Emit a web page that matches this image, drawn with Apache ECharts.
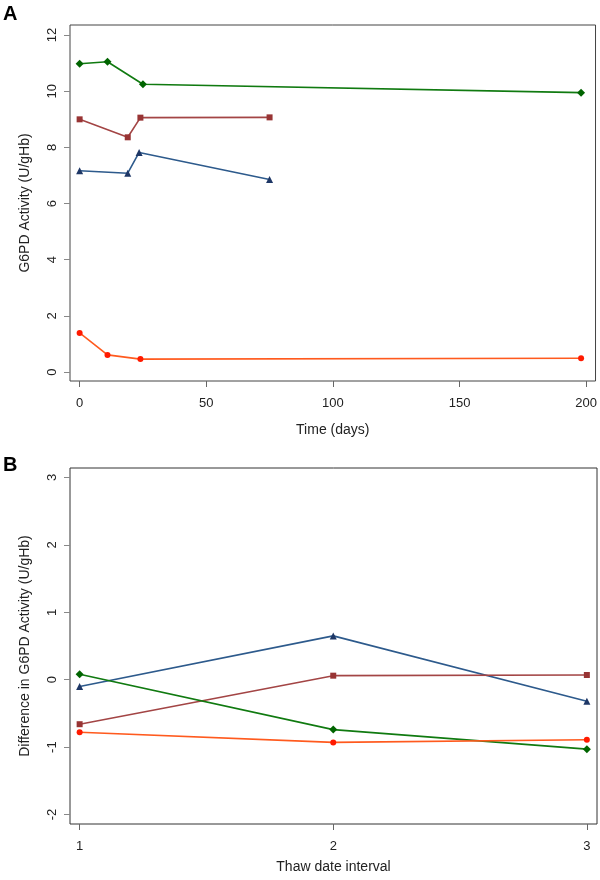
<!DOCTYPE html>
<html>
<head>
<meta charset="utf-8">
<script src="https://cdn.jsdelivr.net/npm/echarts@6/dist/echarts.min.js"></script>
<style>
html,body{margin:0;padding:0;background:#fff;}
#chart{width:600px;height:880px;}
</style>
</head>
<body>
<div id="chart"></div>
<script>
// ---- Panel A data (time in days, activity in U/gHb) ----
const aTimeGreen = [0, 11, 25, 198];
const aValGreen  = [10.98, 11.05, 10.25, 9.95];
const aTimeBrown = [0, 19, 24, 75];
const aValBrown  = [9.0, 8.36, 9.06, 9.07];
const aTimeBlue  = [0, 19, 23.5, 75];
const aValBlue   = [7.17, 7.08, 7.82, 6.86];
const aTimeRed   = [0, 11, 24, 198];
const aValRed    = [1.39, 0.61, 0.46, 0.49];
const aXTicks = [0, 50, 100, 150, 200];
const aYTicks = [0, 2, 4, 6, 8, 10, 12];

// ---- Panel B data (thaw date interval, difference in U/gHb) ----
const bIntervals = [1, 2, 3];
const bGreen = [0.08, -0.74, -1.03];
const bBrown = [-0.66, 0.06, 0.07];
const bBlue  = [-0.10, 0.65, -0.32];
const bRed   = [-0.78, -0.93, -0.89];
const bXTicks = [1, 2, 3];
const bYTicks = [-2, -1, 0, 1, 2, 3];

const FONT = 'Liberation Sans, Arial, Helvetica, sans-serif';
const zip = (xs, ys) => xs.map((x, i) => [x, ys[i]]);

const styles = {
  green: {line: '#107a10', mark: '#006400', symbol: 'diamond', size: [8, 8]},
  brown: {line: '#a34545', mark: '#983434', symbol: 'rect', size: 6},
  blue:  {line: '#2d5a8c', mark: '#1e3766', symbol: 'triangle', size: 7},
  red:   {line: '#ff5a1e', mark: '#ff1a00', symbol: 'circle', size: 6}
};

function mkSeries(key, data, idx) {
  const s = styles[key];
  return {
    type: 'line', xAxisIndex: idx, yAxisIndex: idx, data: data,
    symbol: s.symbol, symbolSize: s.size, showSymbol: true,
    lineStyle: {color: s.line, width: 1.6},
    itemStyle: {color: s.mark},
    animation: false, silent: true
  };
}

function xAxisCfg(idx, min, max, ticks, name, gap) {
  return {
    type: 'value', gridIndex: idx, min: min, max: max,
    name: name, nameLocation: 'middle', nameGap: gap,
    nameTextStyle: {fontFamily: FONT, fontSize: 14, color: '#222'},
    axisLine: {show: false, onZero: false},
    axisTick: {show: true, length: 6, customValues: ticks, lineStyle: {color: '#666', width: 1}},
    axisLabel: {customValues: ticks, margin: 16, fontFamily: FONT, fontSize: 13, color: '#222'},
    splitLine: {show: false}
  };
}
function yAxisCfg(idx, min, max, ticks, name, gap) {
  return {
    type: 'value', gridIndex: idx, min: min, max: max,
    name: name, nameLocation: 'middle', nameGap: gap, nameRotate: 90,
    nameTextStyle: {fontFamily: FONT, fontSize: 14, color: '#222'},
    axisLine: {show: false, onZero: false},
    axisTick: {show: true, length: 6, customValues: ticks, lineStyle: {color: '#888', width: 1}},
    axisLabel: {customValues: ticks, rotate: 90, margin: 11, fontFamily: FONT, fontSize: 13, color: '#222'},
    splitLine: {show: false}
  };
}

const chart = echarts.init(document.getElementById('chart'), null, {renderer: 'canvas'});
chart.setOption({
  backgroundColor: '#fff',
  animation: false,
  grid: [
    {left: 70, top: 25, width: 526, height: 356, show: true, borderColor: '#444', borderWidth: 1, backgroundColor: 'transparent'},
    {left: 70, top: 468, width: 527, height: 356, show: true, borderColor: '#333', borderWidth: 1, backgroundColor: 'transparent'}
  ],
  xAxis: [
    xAxisCfg(0, -3.8, 203.7, aXTicks, 'Time (days)', 42),
    xAxisCfg(1, 0.962, 3.04, bXTicks, 'Thaw date interval', 36)
  ],
  yAxis: [
    yAxisCfg(0, -0.32, 12.36, aYTicks, 'G6PD Activity (U/gHb)', 38),
    yAxisCfg(1, -2.14, 3.14, bYTicks, 'Difference in G6PD Activity (U/gHb)', 38)
  ],
  graphic: [
    {type: 'text', left: 3, top: 4, style: {text: 'A', font: 'bold 20px ' + FONT, fill: '#000'}},
    {type: 'text', left: 3, top: 455, style: {text: 'B', font: 'bold 20px ' + FONT, fill: '#000'}}
  ],
  series: [
    mkSeries('green', zip(aTimeGreen, aValGreen), 0),
    mkSeries('brown', zip(aTimeBrown, aValBrown), 0),
    mkSeries('blue',  zip(aTimeBlue,  aValBlue),  0),
    mkSeries('red',   zip(aTimeRed,   aValRed),   0),
    mkSeries('blue',  zip(bIntervals, bBlue),  1),
    mkSeries('brown', zip(bIntervals, bBrown), 1),
    mkSeries('green', zip(bIntervals, bGreen), 1),
    mkSeries('red',   zip(bIntervals, bRed),   1)
  ]
});
</script>
</body>
</html>
